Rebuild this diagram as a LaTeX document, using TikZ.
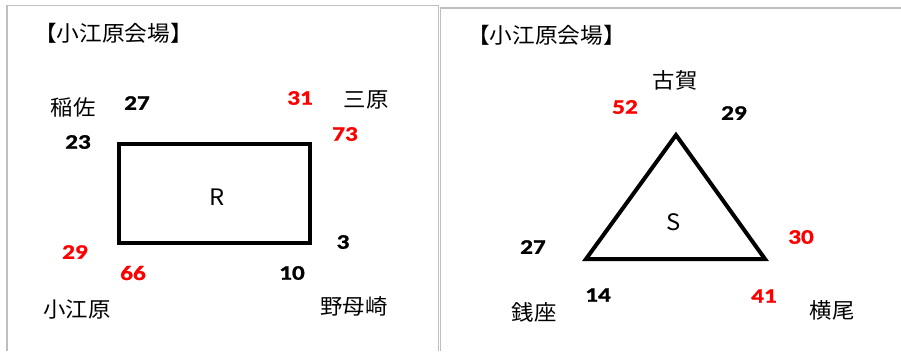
\documentclass[tikz,border=0pt]{standalone}
\usepackage{fontspec}
\setmainfont{Carlito}
\newfontfamily\cjk[FakeStretch=1.05]{Noto Sans CJK JP}
\newfontfamily\numf[FakeStretch=1.22, BoldFeatures={FakeBold=1.2}]{Carlito}
\definecolor{frame}{HTML}{BFBFBF}
\definecolor{redn}{HTML}{FF0000}
\tikzset{
  frameline/.style={draw=frame, line width=1.1pt},
  place/.style={inner sep=0pt, font=\cjk\fontsize{16}{18}\selectfont},
  title/.style={inner sep=0pt, anchor=west, font=\cjk\fontsize{16.2}{18}\selectfont},
  num/.style={inner sep=0pt, font=\numf\bfseries\fontsize{15.5}{17}\selectfont},
  rnum/.style={num, text=redn},
  shapelabel/.style={inner sep=0pt, font=\cjk\fontsize{17}{19}\selectfont},
  figline/.style={draw=black, line width=3pt, line join=miter}
}
\begin{document}
\begin{tikzpicture}[x=0.75pt,y=-0.75pt]
\useasboundingbox (0,0) rectangle (901,351);
% frames
\coordinate (l1) at (7,351); \coordinate (l2) at (7,5.5);
\coordinate (l3) at (438.5,5.5); \coordinate (l4) at (438.5,351);
\draw[frameline] (l1) -- (l2) -- (l3) -- (l4);
\coordinate (r1) at (440.5,351); \coordinate (r2) at (440.5,8); \coordinate (r3) at (901,8);
\draw[frameline] (r1) -- (r2) -- (r3);
% left panel
\node[title] (t1) at (34,33) {【小江原会場】};
\node[place] (inasa) at (73,107) {稲佐};
\node[place] (mihara) at (366,100) {三原};
\node[place] (koebaru) at (77,310) {小江原};
\node[place] (nomozaki) at (354,306) {野母崎};
\node[num] (n27a) at (137,103) {27};
\node[rnum] (n31) at (300,98) {31};
\node[rnum] (n73) at (345,134) {73};
\node[num] (n23) at (78,142) {23};
\node[num] (n3) at (343,242) {3};
\node[rnum] (n29a) at (75,252) {29};
\node[rnum] (n66) at (133,273) {66};
\node[num] (n10) at (292,273) {10};
\node[figline, draw, minimum width=143.25pt, minimum height=74.25pt] (rect) at (214.5,193.5) {};
\node[shapelabel] (R) at (217,197) {R};
% right panel
\node[title] (t2) at (467,35) {【小江原会場】};
\node[place] (koga) at (675,80) {古賀};
\node[place] (zenza) at (534,312) {銭座};
\node[place] (yokoo) at (832,310) {横尾};
\node[rnum] (n52) at (625,107) {52};
\node[num] (n29b) at (734,113) {29};
\node[rnum] (n30) at (801,237) {30};
\node[num] (n27b) at (533,247) {27};
\node[num] (n14) at (598,295) {14};
\node[rnum] (n41) at (764,296) {41};
\coordinate (apex) at (676,135);
\coordinate (bl) at (586,259);
\coordinate (br) at (765,259);
\draw[figline] (apex) -- (bl) -- (br) -- cycle;
\node[shapelabel] (S) at (674,222) {S};
\end{tikzpicture}
\end{document}
